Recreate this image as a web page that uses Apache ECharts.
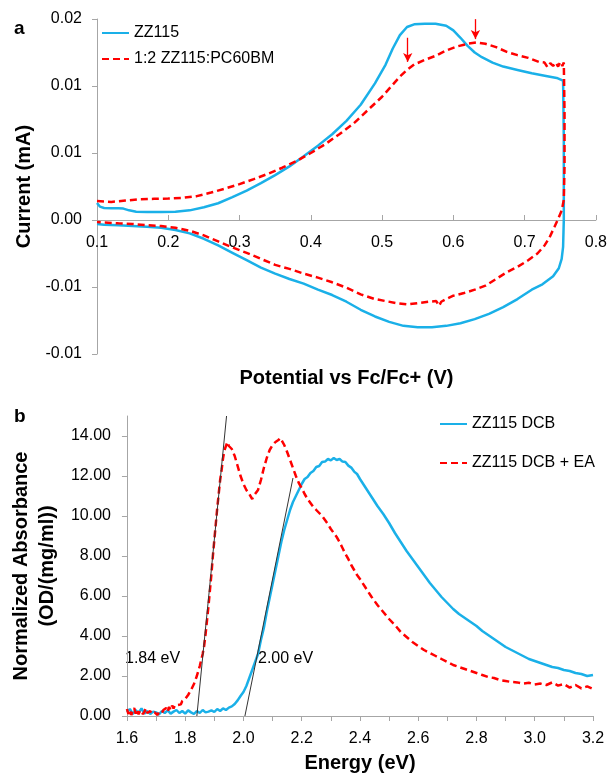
<!DOCTYPE html>
<html>
<head>
<meta charset="utf-8">
<script src="https://cdn.jsdelivr.net/npm/echarts@6/dist/echarts.min.js"></script>
<style>
  html, body { margin: 0; padding: 0; background: #fff; }
  #chart { width: 610px; height: 774px; }
</style>
</head>
<body>
<div id="chart"></div>
<script>
// ---- panel a : cyclic voltammetry (V vs Fc/Fc+, mA) ----
const cvNames = ['ZZ115', '1:2 ZZ115:PC60BM'];
const cvZZ115 = [
  [0.100,0.00127],[0.104,0.00100],[0.110,0.00090],[0.120,0.00088],[0.130,0.00087],[0.137,0.00085],
  [0.145,0.00072],[0.155,0.00062],[0.170,0.00060],[0.190,0.00060],[0.210,0.00062],[0.230,0.00072],
  [0.250,0.00095],[0.270,0.00125],[0.290,0.00170],[0.310,0.00220],[0.330,0.00275],[0.350,0.00335],
  [0.370,0.00400],[0.390,0.00475],[0.410,0.00555],[0.430,0.00640],[0.450,0.00740],[0.470,0.00860],
  [0.490,0.01020],[0.505,0.01160],[0.515,0.01280],[0.525,0.01380],[0.535,0.01440],[0.545,0.01460],
  [0.560,0.01465],[0.575,0.01465],[0.590,0.01450],[0.600,0.01415],[0.610,0.01360],[0.620,0.01300],
  [0.630,0.01250],[0.640,0.01215],[0.655,0.01175],[0.670,0.01145],[0.690,0.01120],[0.710,0.01095],
  [0.730,0.01075],[0.745,0.01060],[0.754,0.01040],
  [0.755,0.00600],[0.755,0.00000],[0.754,-0.00200],[0.752,-0.00290],[0.748,-0.00360],[0.740,-0.00420],
  [0.725,-0.00480],[0.710,-0.00520],[0.690,-0.00590],[0.670,-0.00650],[0.650,-0.00700],[0.630,-0.00740],
  [0.610,-0.00770],[0.590,-0.00790],[0.570,-0.00800],[0.550,-0.00800],[0.530,-0.00790],[0.510,-0.00760],
  [0.490,-0.00720],[0.470,-0.00670],[0.450,-0.00610],[0.430,-0.00560],[0.410,-0.00520],[0.390,-0.00475],
  [0.370,-0.00440],[0.350,-0.00400],[0.330,-0.00355],[0.310,-0.00300],[0.290,-0.00245],[0.270,-0.00190],
  [0.250,-0.00140],[0.230,-0.00100],[0.210,-0.00075],[0.190,-0.00058],[0.170,-0.00050],[0.150,-0.00045],
  [0.130,-0.00040],[0.110,-0.00035],[0.100,-0.00030]
];
const cvBlend = [
  [0.100,0.00142],[0.120,0.00135],[0.140,0.00145],[0.160,0.00155],[0.180,0.00158],[0.200,0.00160],
  [0.220,0.00165],[0.240,0.00178],[0.260,0.00205],[0.280,0.00235],[0.300,0.00268],[0.320,0.00305],
  [0.340,0.00345],[0.360,0.00390],[0.380,0.00440],[0.400,0.00500],[0.420,0.00565],[0.440,0.00640],
  [0.460,0.00720],[0.480,0.00820],[0.500,0.00920],[0.515,0.01010],[0.525,0.01070],[0.535,0.01120],
  [0.545,0.01160],[0.560,0.01195],[0.575,0.01225],[0.590,0.01265],[0.605,0.01295],[0.620,0.01315],
  [0.632,0.01325],[0.645,0.01315],[0.660,0.01290],[0.675,0.01255],[0.690,0.01230],[0.705,0.01210],
  [0.720,0.01180],[0.728,0.01175],[0.732,0.01140],[0.736,0.01170],[0.740,0.01150],[0.744,0.01175],
  [0.747,0.01145],[0.750,0.01180],[0.753,0.01150],[0.755,0.01175],
  [0.756,0.00800],[0.756,0.00400],[0.755,0.00150],[0.752,0.00070],[0.748,0.00020],[0.742,-0.00050],
  [0.735,-0.00130],[0.728,-0.00190],[0.718,-0.00250],[0.705,-0.00300],[0.690,-0.00350],[0.675,-0.00390],
  [0.660,-0.00440],[0.645,-0.00490],[0.630,-0.00520],[0.615,-0.00545],[0.600,-0.00565],[0.590,-0.00590],
  [0.583,-0.00610],[0.580,-0.00640],[0.576,-0.00605],[0.565,-0.00610],[0.550,-0.00620],[0.535,-0.00630],
  [0.520,-0.00620],[0.505,-0.00605],[0.490,-0.00590],[0.470,-0.00555],[0.450,-0.00505],[0.430,-0.00465],
  [0.410,-0.00430],[0.390,-0.00400],[0.370,-0.00365],[0.350,-0.00335],[0.330,-0.00290],[0.310,-0.00245],
  [0.290,-0.00205],[0.270,-0.00160],[0.250,-0.00115],[0.230,-0.00080],[0.210,-0.00058],[0.190,-0.00045],
  [0.170,-0.00038],[0.150,-0.00030],[0.130,-0.00025],[0.110,-0.00018],[0.100,-0.00015]
];
// red arrows marking the two oxidation features (start, tip)
const cvArrows = [
  [[0.536, 0.0136], [0.536, 0.0118]],
  [[0.631, 0.01499], [0.631, 0.0135]]
];
const cvYTicks = [-0.01, -0.005, 0, 0.005, 0.01, 0.015];
const cvYLabels = ['-0.01', '-0.01', '0.00', '0.01', '0.01', '0.02'];

// ---- panel b : absorbance vs energy ----
const absNames = ['ZZ115 DCB', 'ZZ115 DCB + EA'];
const absDCB = [
  [1.600,0.20],[1.610,0.35],[1.620,0.10],[1.630,0.30],[1.640,0.15],[1.650,0.38],[1.660,0.12],
  [1.670,0.25],[1.680,0.10],[1.690,0.22],[1.700,0.18],[1.710,0.08],[1.720,0.25],[1.730,0.15],
  [1.740,0.28],[1.750,0.12],[1.760,0.22],[1.770,0.30],[1.780,0.15],[1.790,0.25],[1.800,0.12],
  [1.810,0.28],[1.820,0.18],[1.830,0.10],[1.840,0.25],[1.850,0.15],[1.860,0.30],[1.870,0.18],
  [1.880,0.22],[1.890,0.28],[1.900,0.20],[1.910,0.35],[1.920,0.25],[1.930,0.38],[1.940,0.30],
  [1.950,0.42],[1.960,0.48],[1.970,0.60],[1.980,0.78],[1.990,1.00],[2.000,1.20],[2.010,1.50],
  [2.020,1.90],[2.030,2.30],[2.040,2.70],[2.050,3.10],[2.060,3.80],[2.070,4.40],[2.080,5.20],
  [2.090,5.90],[2.100,6.60],[2.110,7.30],[2.120,8.00],[2.130,8.70],[2.140,9.30],[2.150,9.80],
  [2.160,10.30],[2.170,10.70],[2.180,11.00],[2.190,11.30],[2.200,11.60],[2.210,11.85],[2.220,11.95],
  [2.230,12.15],[2.240,12.25],[2.250,12.45],[2.260,12.50],[2.270,12.70],[2.280,12.72],[2.290,12.85],
  [2.300,12.78],[2.310,12.90],[2.320,12.80],[2.330,12.85],[2.340,12.72],[2.350,12.70],[2.360,12.52],
  [2.370,12.42],[2.380,12.22],[2.390,12.10],[2.400,11.85],[2.420,11.40],[2.440,10.95],[2.460,10.50],
  [2.480,10.10],[2.500,9.65],[2.520,9.15],[2.540,8.70],[2.560,8.25],[2.580,7.85],[2.600,7.45],
  [2.620,7.05],[2.640,6.65],[2.660,6.30],[2.680,5.95],[2.700,5.65],[2.720,5.35],[2.740,5.10],
  [2.760,4.90],[2.780,4.70],[2.800,4.50],[2.820,4.25],[2.840,4.05],[2.860,3.85],[2.880,3.65],
  [2.900,3.45],[2.920,3.30],[2.940,3.15],[2.960,3.00],[2.980,2.85],[3.000,2.75],[3.020,2.65],
  [3.040,2.55],[3.060,2.45],[3.080,2.40],[3.100,2.30],[3.120,2.25],[3.140,2.15],[3.160,2.10],
  [3.180,2.00],[3.200,2.05]
];
const absEA = [
  [1.600,0.35],[1.605,0.10],[1.610,0.30],[1.615,0.05],[1.620,0.25],[1.625,0.40],[1.630,0.12],
  [1.635,0.30],[1.640,0.08],[1.645,0.28],[1.650,0.35],[1.655,0.10],[1.660,0.22],[1.665,0.38],
  [1.670,0.15],[1.675,0.05],[1.680,0.25],[1.685,0.12],[1.690,0.02],[1.695,0.18],[1.700,0.10],
  [1.705,0.05],[1.710,0.20],[1.715,0.12],[1.720,0.15],[1.725,0.30],[1.730,0.25],[1.735,0.40],
  [1.740,0.22],[1.745,0.45],[1.750,0.30],[1.755,0.52],[1.760,0.38],[1.765,0.55],[1.770,0.45],
  [1.775,0.55],[1.780,0.62],[1.785,0.58],[1.790,0.75],[1.800,0.85],[1.810,1.05],[1.820,1.30],
  [1.830,1.60],[1.840,2.00],[1.850,2.50],[1.855,2.80],[1.860,3.10],[1.865,3.50],[1.870,4.10],
  [1.875,4.80],[1.880,5.50],[1.885,6.30],[1.890,7.10],[1.895,8.00],[1.900,8.80],[1.905,9.60],
  [1.910,10.40],[1.915,11.10],[1.920,11.80],[1.925,12.30],[1.930,12.90],[1.935,13.30],[1.940,13.50],
  [1.945,13.70],[1.950,13.50],[1.955,13.60],[1.960,13.35],[1.970,13.00],[1.980,12.50],[1.990,12.00],
  [2.000,11.60],[2.010,11.30],[2.020,11.10],[2.030,10.85],[2.035,11.00],[2.040,10.90],[2.050,11.30],
  [2.060,11.80],[2.070,12.40],[2.080,12.90],[2.090,13.30],[2.100,13.55],[2.110,13.70],[2.120,13.80],
  [2.127,13.90],[2.130,13.80],[2.140,13.55],[2.150,13.20],[2.160,12.80],[2.170,12.40],[2.180,12.00],
  [2.190,11.65],[2.200,11.40],[2.210,11.10],[2.220,10.85],[2.230,10.65],[2.240,10.45],[2.250,10.30],
  [2.260,10.15],[2.270,10.00],[2.280,9.80],[2.290,9.60],[2.300,9.35],[2.310,9.15],[2.320,8.95],
  [2.330,8.70],[2.340,8.40],[2.350,8.10],[2.360,7.85],[2.370,7.55],[2.380,7.30],[2.390,7.05],
  [2.400,6.85],[2.420,6.40],[2.440,5.95],[2.460,5.55],[2.480,5.20],[2.500,4.85],[2.520,4.55],
  [2.540,4.20],[2.560,3.95],[2.580,3.70],[2.600,3.50],[2.620,3.30],[2.640,3.15],[2.660,3.00],
  [2.680,2.85],[2.700,2.70],[2.720,2.55],[2.740,2.45],[2.760,2.35],[2.780,2.25],[2.800,2.15],
  [2.820,2.05],[2.840,1.95],[2.860,1.90],[2.880,1.80],[2.900,1.75],[2.920,1.70],[2.940,1.68],
  [2.960,1.62],[2.980,1.66],[3.000,1.58],[3.020,1.62],[3.040,1.55],[3.060,1.68],[3.080,1.52],
  [3.100,1.60],[3.120,1.42],[3.140,1.55],[3.160,1.38],[3.180,1.48],[3.200,1.35]
];
// onset tangents (band-gap extrapolation)
const tangentEA = [[1.840, 0], [1.942, 15]];
const tangentDCB = [[2.005, 0], [2.170, 11.9]];
const absYTicks = [0, 2, 4, 6, 8, 10, 12, 14];

const FONT = "'Liberation Sans', Arial, sans-serif";
const BLUE = '#1ab0e8';
const RED = '#ff0000';
const AXIS = '#a6a6a6';

const chart = echarts.init(document.getElementById('chart'));

const legendCommon = {
  orient: 'vertical', padding: 0, itemWidth: 27, itemHeight: 14,
  itemStyle: { opacity: 0 },
  textStyle: { fontSize: 16, color: '#000', fontFamily: FONT, lineHeight: 16 }
};

const option = {
  animation: false,
  textStyle: { fontFamily: FONT, color: '#000' },
  grid: [
    { left: 97, top: 19, width: 500, height: 335 },
    { left: 116, top: 416, width: 477, height: 302 }
  ],
  legend: [
    Object.assign({ data: cvNames, left: 101, top: 25, itemGap: 10 }, legendCommon),
    Object.assign({ data: absNames, left: 439, top: 416, itemGap: 23 }, legendCommon)
  ],
  xAxis: [
    {
      // drawn across y = 0 (shifted up from the grid bottom)
      gridIndex: 0, type: 'value', min: 0.1, max: 0.8, interval: 0.1,
      offset: -134,
      name: 'Potential vs Fc/Fc+ (V)', nameLocation: 'middle', nameGap: 148,
      nameTextStyle: { fontSize: 20, fontWeight: 'bold', color: '#000', fontFamily: FONT },
      axisLine: { onZero: false, lineStyle: { color: AXIS } },
      axisTick: { show: true, inside: true, length: 5, lineStyle: { color: AXIS } },
      axisLabel: { fontSize: 16, color: '#000', margin: 15, formatter: v => v.toFixed(1) },
      splitLine: { show: false }
    },
    {
      gridIndex: 1, type: 'value', min: 1.6, max: 3.2, interval: 0.1,
      name: 'Energy (eV)', nameLocation: 'middle', nameGap: 37,
      nameTextStyle: { fontSize: 20, fontWeight: 'bold', color: '#000', fontFamily: FONT },
      axisLine: { onZero: false, lineStyle: { color: AXIS } },
      axisTick: { show: true, length: 5, lineStyle: { color: AXIS } },
      axisLabel: {
        fontSize: 16, color: '#000', margin: 15,
        formatter: v => (Math.round(v * 10) % 2 === 0 ? v.toFixed(1) : '')
      },
      splitLine: { show: false }
    }
  ],
  yAxis: [
    {
      gridIndex: 0, type: 'value', min: -0.01, max: 0.015,
      name: 'Current (mA)', nameLocation: 'middle', nameGap: 62,
      nameTextStyle: { fontSize: 20, fontWeight: 'bold', color: '#000', fontFamily: FONT },
      axisLine: { show: true, onZero: false, lineStyle: { color: AXIS } },
      axisTick: { show: true, length: 5, customValues: cvYTicks, lineStyle: { color: AXIS } },
      axisLabel: {
        fontSize: 16, color: '#000', margin: 15, customValues: cvYTicks,
        formatter: v => {
          const i = cvYTicks.findIndex(t => Math.abs(t - v) < 1e-9);
          return i >= 0 ? cvYLabels[i] : '';
        }
      },
      splitLine: { show: false }
    },
    {
      gridIndex: 1, type: 'value', min: 0, max: 15,
      name: 'Normalized Absorbance\n(OD/(mg/ml))', nameLocation: 'middle', nameGap: 59,
      nameTextStyle: { fontSize: 20, fontWeight: 'bold', color: '#000', fontFamily: FONT, lineHeight: 26 },
      axisLine: { show: true, onZero: false, lineStyle: { color: AXIS } },
      axisTick: { show: true, length: 5, customValues: absYTicks, lineStyle: { color: AXIS } },
      axisLabel: {
        fontSize: 16, color: '#000', margin: 16, customValues: absYTicks,
        formatter: v => v.toFixed(2)
      },
      splitLine: { show: false }
    }
  ],
  series: [
    {
      name: cvNames[0], type: 'line', xAxisIndex: 0, yAxisIndex: 0,
      data: cvZZ115, showSymbol: false, symbol: 'none',
      lineStyle: { color: BLUE, width: 2.5 }, itemStyle: { color: BLUE }
    },
    {
      name: cvNames[1], type: 'line', xAxisIndex: 0, yAxisIndex: 0,
      data: cvBlend, showSymbol: false, symbol: 'none',
      lineStyle: { color: RED, width: 2.5, type: [7, 4] }, itemStyle: { color: RED },
      markLine: {
        silent: true, symbol: ['none', 'arrow'], symbolSize: [7, 9],
        label: { show: false },
        lineStyle: { color: RED, width: 1.3, type: 'solid' },
        data: cvArrows.map(a => [{ coord: a[0] }, { coord: a[1] }])
      }
    },
    {
      name: absNames[0], type: 'line', xAxisIndex: 1, yAxisIndex: 1,
      data: absDCB, showSymbol: false, symbol: 'none',
      lineStyle: { color: BLUE, width: 2.5 }, itemStyle: { color: BLUE }
    },
    {
      name: absNames[1], type: 'line', xAxisIndex: 1, yAxisIndex: 1,
      data: absEA, showSymbol: false, symbol: 'none',
      lineStyle: { color: RED, width: 2.5, type: [7, 4] }, itemStyle: { color: RED }
    },
    {
      name: 'tangent EA', type: 'line', xAxisIndex: 1, yAxisIndex: 1,
      data: tangentEA, showSymbol: false, symbol: 'none', z: 5,
      lineStyle: { color: '#333', width: 1 }
    },
    {
      name: 'tangent DCB', type: 'line', xAxisIndex: 1, yAxisIndex: 1,
      data: tangentDCB, showSymbol: false, symbol: 'none', z: 5,
      lineStyle: { color: '#333', width: 1 }
    }
  ],
  graphic: [
    { type: 'text', left: 14, top: 19, style: { text: 'a', font: 'bold 19px ' + FONT, fill: '#000' } },
    { type: 'text', left: 14, top: 407, style: { text: 'b', font: 'bold 19px ' + FONT, fill: '#000' } },
    { type: 'text', left: 125, top: 651, style: { text: '1.84 eV', font: '16px ' + FONT, fill: '#000' } },
    { type: 'text', left: 258, top: 651, style: { text: '2.00 eV', font: '16px ' + FONT, fill: '#000' } }
  ]
};

chart.setOption(option);
</script>
</body>
</html>
